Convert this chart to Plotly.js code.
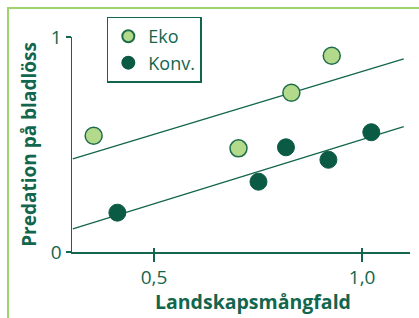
<!DOCTYPE html>
<html>
<head>
<meta charset="utf-8">
<script src="https://cdn.plot.ly/plotly-3.0.1.min.js"></script>
<style>
  html, body { margin: 0; padding: 0; background: #ffffff; overflow: hidden; }
  #wrap { position: relative; width: 419px; height: 318px; overflow: hidden; }
  #frame { position: absolute; left: 7px; top: 7px; width: 600px; height: 600px;
           border-left: 2px solid #9fd46a; border-top: 2px solid #9fd46a; pointer-events: none; z-index: 5; }
  #chart { position: absolute; left: 0; top: 0; width: 419px; height: 318px; }
</style>
</head>
<body>
<div id="wrap">
  <div id="chart"></div>
  <div id="frame"></div>
</div>
<script>
// ---- data ----
const ekoX  = [0.355, 0.703, 0.830, 0.927];
const ekoY  = [0.541, 0.482, 0.741, 0.913];
const konvX = [0.412, 0.751, 0.817, 0.919, 1.022];
const konvY = [0.183, 0.327, 0.487, 0.429, 0.557];
const fitX    = [0.305, 1.100];
const ekoFit  = [0.433, 0.898];
const konvFit = [0.108, 0.583];
const xTickVals = [0.5, 1.0];
const xTickText = ['0,5', '1,0'];
const yTickVals = [0, 1];
const yTickText = ['0', '1'];
const legendNames = ['Eko', 'Konv.'];
const xTitle = 'Landskapsmångfald';
const yTitle = 'Predation på bladlöss';

const ink = '#12664d';
const dark = '#0b5a44';
const light = '#b3d98a';
const font = '"Open Sans", sans-serif';
const xRange = [0.303, 1.115];
const yRange = [0, 1];

const traces = [
  { x: fitX, y: ekoFit, mode: 'lines', line: { color: ink, width: 1.3 }, showlegend: false, hoverinfo: 'skip' },
  { x: fitX, y: konvFit, mode: 'lines', line: { color: ink, width: 1.3 }, showlegend: false, hoverinfo: 'skip' },
  { x: ekoX, y: ekoY, mode: 'markers', name: legendNames[0],
    marker: { size: 17, color: light, line: { color: '#1c6c4c', width: 1.5 } } },
  { x: konvX, y: konvY, mode: 'markers', name: legendNames[1],
    marker: { size: 17, color: dark, line: { color: dark, width: 1 } } },
  // helper trace so the inner-tick overlay axes are drawn
  { x: xRange, y: yRange, xaxis: 'x2', yaxis: 'y2', mode: 'markers', marker: { opacity: 0 },
    showlegend: false, hoverinfo: 'skip' }
];

const layout = {
  width: 419, height: 318,
  margin: { l: 72, r: 9, t: 37, b: 66 },
  paper_bgcolor: '#ffffff', plot_bgcolor: '#ffffff',
  font: { family: font, color: ink, size: 18 },
  showlegend: true,
  legend: {
    x: 0.103, y: 1.095, xanchor: 'left', yanchor: 'top',
    bordercolor: ink, borderwidth: 1.5, bgcolor: '#ffffff',
    font: { family: font, size: 18, color: ink },
    itemsizing: 'constant', tracegroupgap: 0
  },
  xaxis: {
    range: xRange, showgrid: false, zeroline: false,
    showline: true, linecolor: ink, linewidth: 1.5,
    ticks: 'outside', ticklen: 8, tickwidth: 1.5, tickcolor: ink,
    tickvals: xTickVals, ticktext: xTickText,
    tickfont: { family: font, size: 19, color: ink }
  },
  yaxis: {
    range: yRange, showgrid: false, zeroline: false,
    showline: true, linecolor: ink, linewidth: 1.5,
    ticks: 'outside', ticklen: 5, tickwidth: 1.5, tickcolor: ink,
    tickvals: yTickVals, ticktext: yTickText,
    tickfont: { family: font, size: 19, color: ink },
    title: { text: yTitle, font: { family: font, size: 19, color: ink, weight: 'bold' }, standoff: 9 }
  },
  xaxis2: {
    overlaying: 'x', range: xRange, showgrid: false, zeroline: false, showline: false,
    ticks: 'inside', ticklen: 4, tickwidth: 1.5, tickcolor: ink,
    tickvals: xTickVals, showticklabels: false
  },
  yaxis2: {
    overlaying: 'y', range: yRange, showgrid: false, zeroline: false, showline: false,
    ticks: 'inside', ticklen: 5, tickwidth: 1.5, tickcolor: ink,
    tickvals: yTickVals, showticklabels: false
  },
  annotations: [
    { text: '<b>' + xTitle + '</b>', xref: 'paper', yref: 'paper',
      x: 0.535, y: -0.232, xanchor: 'center', yanchor: 'middle', showarrow: false,
      font: { family: font, size: 19.5, color: ink } }
  ]
};

Plotly.newPlot('chart', traces, layout, { displayModeBar: false, staticPlot: true });
</script>
</body>
</html>
